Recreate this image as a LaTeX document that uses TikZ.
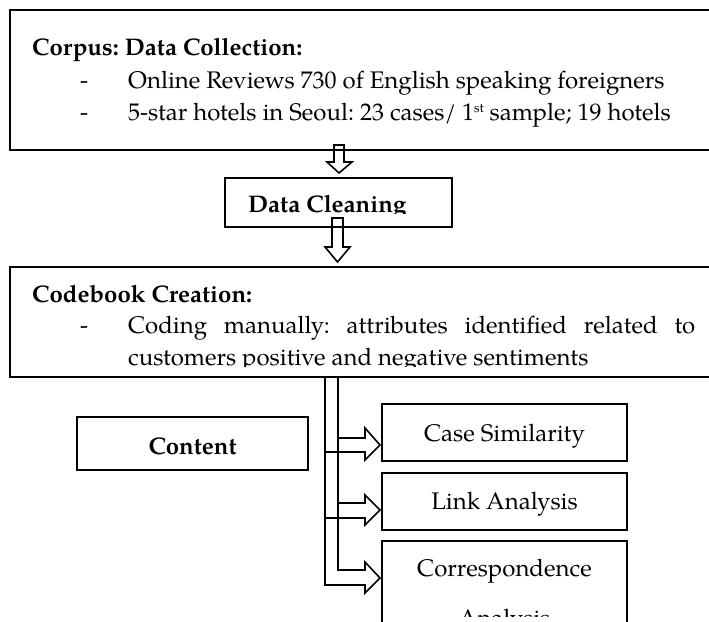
\documentclass[tikz,border=0pt]{standalone}
\usepackage{fontspec}
\setmainfont{TeX Gyre Pagella}
\frenchspacing
\newcommand{\supst}[1]{\raisebox{7.5pt}{\fontsize{13}{13}\selectfont #1}}
\begin{document}
\begin{tikzpicture}[x=1pt,y=-1pt,
  font=\fontsize{24}{32}\selectfont,
  box/.style={draw, line width=2pt, inner sep=0pt, outer sep=0pt, anchor=north west},
  txt/.style={inner sep=0pt, anchor=base west},
  ctxt/.style={inner sep=0pt, anchor=base},
  harrow/.style={draw, line width=1.6pt, line join=miter}]
\useasboundingbox (0,0) rectangle (709,621);

% boxes
\node[box, minimum width=705pt, minimum height=140pt] (corpus) at (10,10) {};
\node[box, minimum width=227pt, minimum height=49pt] (clean) at (225,178) {};
\node[box, minimum width=705pt, minimum height=110pt] (codebook) at (10,267) {};
\node[box, minimum width=231pt, minimum height=53pt] (content) at (77,417) {};
\node[box, minimum width=245pt, minimum height=57pt] (casesim) at (382,404) {};
\node[box, minimum width=245pt, minimum height=57pt] (link) at (382,473) {};
\node[box, minimum width=245pt, minimum height=100pt] (corr) at (382,541) {};

% corpus texts
\node[txt] (t1) at (32,55) {\bfseries Corpus: Data Collection:};
\node[txt] (d1) at (80,88) {-};
\node[txt] (t2) at (128,88) {Online Reviews 730 of English speaking foreigners};
\node[txt] (d2) at (80,120) {-};
\node[txt] (t3) at (128,120) {5-star hotels in Seoul: 23 cases/ 1\supst{st} sample; 19 hotels};

% data cleaning text (clipped)
\begin{scope}
\clip (225,178) rectangle (452,213);
\node[txt] (t4) at (248,212) {\bfseries Data Cleaning};
\end{scope}

% codebook texts
\node[txt] (t5) at (32,302) {\bfseries Codebook Creation:};
\node[txt] (d3) at (80,333) {-};
\node[txt] (t6) at (128,333) {\makebox[567pt][s]{Coding manually: attributes identified related to}};
\begin{scope}
\clip (10,267) rectangle (715,366);
\node[txt] (t7) at (128,365) {customers positive and negative sentiments};
\end{scope}

% right texts
\node[ctxt] (t8) at (192.5,454) {\bfseries Content};
\node[ctxt] (t9) at (504.5,441) {Case Similarity};
\node[ctxt] (t10) at (504.5,509) {Link Analysis};
\node[ctxt] (t11) at (504.5,576) {Correspondence};
\begin{scope}
\clip (382,541) rectangle (627,616);
\node[ctxt] (t12) at (504.5,626) {Analysis};
\end{scope}

% down arrows
\draw[harrow] (334,145) -- (344,145) -- (344,162) -- (352,162) -- (339,173) -- (327,162) -- (334,162) -- cycle;
\draw[harrow] (332,218) -- (343,218) -- (343,247) -- (350,247) -- (337.5,262) -- (325,247) -- (332,247) -- cycle;

% branching pipe
\draw[harrow] (325,377) -- (338,377);
\draw[harrow] (338,377) -- (338,570) -- (365,570) -- (365,562) -- (380,578) -- (365,593) -- (365,585) -- (325,585) -- (325,377);
% arrow to case similarity
\draw[harrow] (338,438) -- (365,438) -- (365,428) -- (380,445) -- (365,460) -- (365,452) -- (325,452);
% arrow to link analysis
\draw[harrow] (338,503) -- (365,503) -- (365,495) -- (380,510) -- (365,525) -- (365,518) -- (325,518);
\end{tikzpicture}
\end{document}
